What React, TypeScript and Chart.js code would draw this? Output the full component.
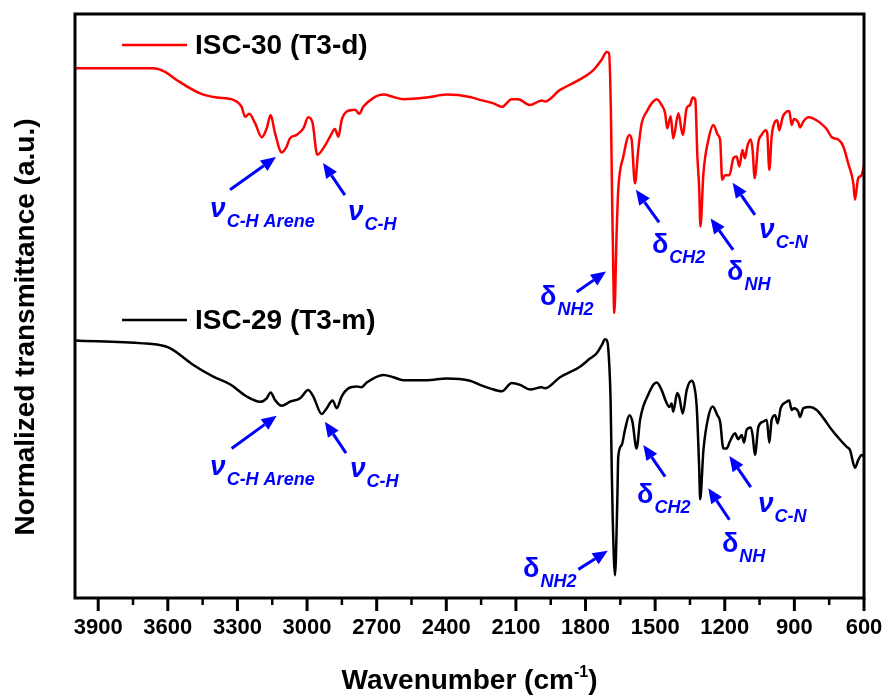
import React, { useEffect, useRef } from 'react';
import { Chart, registerables } from 'chart.js';

Chart.register(...registerables);

const FONT = '"Liberation Sans", Arial, Helvetica, sans-serif';

// x-axis tick labels (wavenumber, cm-1)
const majorTicks = [3900, 3600, 3300, 3000, 2700, 2400, 2100, 1800, 1500, 1200, 900, 600];

// ISC-30 (T3-d) spectrum: wavenumber and normalized transmittance (a.u.)
const redWn = [
  4000, 3664, 3612, 3562, 3461, 3389, 3318, 3282, 3267, 3249,
  3224, 3195, 3174, 3157, 3138, 3109, 3088, 3074, 3045, 3016,
  2995, 2976, 2956, 2930, 2901, 2880, 2865, 2851, 2829, 2793,
  2775, 2758, 2715, 2671, 2628, 2585, 2484, 2398, 2298, 2255,
  2197, 2161, 2118, 2090, 2039, 1989, 1975, 1910, 1824, 1766,
  1730, 1709, 1699, 1691, 1686, 1683, 1676, 1666, 1659, 1637,
  1611, 1601, 1587, 1573, 1558, 1536, 1515, 1493, 1472, 1457,
  1448, 1433, 1422, 1400, 1381, 1364, 1350, 1338, 1327, 1318,
  1310, 1305, 1292, 1271, 1249, 1230, 1220, 1211, 1199, 1180,
  1163, 1149, 1137, 1124, 1113, 1103, 1088, 1080, 1071, 1055,
  1041, 1024, 1017, 1008, 998, 983, 974, 965, 950, 933,
  922, 912, 902, 883, 876, 861, 840, 818, 790, 761,
  739, 711, 689, 668, 646, 639, 625, 610, 600,
];
const redT = [
  90.7, 90.7, 90.1, 88.7, 86.4, 85.7, 85.3, 84.1, 82.4, 82.9,
  81.3, 78.9, 80.4, 82.7, 79.6, 76.3, 77.3, 78.7, 79.3, 80.4,
  82.3, 81.3, 75.9, 77.0, 79.0, 80.3, 79.0, 81.8, 83.3, 83.6,
  82.9, 84.1, 85.6, 86.2, 85.8, 85.4, 85.7, 86.2, 85.8, 85.3,
  84.7, 84.1, 85.4, 85.4, 84.4, 85.2, 85.0, 87.0, 88.8, 90.4,
  92.2, 93.5, 93.3, 84.1, 69.9, 62.5, 48.8, 62.5, 69.9, 75.6,
  79.3, 78.4, 71.0, 76.7, 81.3, 83.3, 84.7, 85.4, 84.4, 83.0,
  80.4, 82.5, 78.7, 83.0, 79.3, 83.9, 84.4, 85.7, 85.3, 75.6,
  69.9, 63.6, 72.7, 78.4, 81.0, 79.3, 78.4, 71.6, 72.4, 72.4,
  75.3, 75.6, 73.9, 76.7, 75.3, 77.3, 78.5, 76.7, 71.9, 78.1,
  79.3, 80.1, 79.6, 73.3, 79.0, 81.6, 81.8, 80.1, 82.4, 83.3,
  83.4, 81.0, 82.0, 81.4, 80.6, 81.6, 82.3, 82.1, 81.4, 80.3,
  78.9, 78.5, 77.3, 74.4, 71.0, 68.2, 71.9, 72.4, 74.1,
];

// ISC-29 (T3-m) spectrum
const blackWn = [
  4000, 3706, 3648, 3591, 3490, 3404, 3332, 3260, 3203, 3174,
  3157, 3138, 3109, 3074, 3030, 2995, 2973, 2937, 2915, 2890,
  2872, 2851, 2822, 2786, 2765, 2743, 2671, 2628, 2585, 2484,
  2398, 2298, 2255, 2212, 2161, 2118, 2082, 2039, 1989, 1975,
  1910, 1824, 1781, 1752, 1730, 1716, 1706, 1698, 1692, 1687,
  1683, 1673, 1663, 1659, 1644, 1630, 1611, 1598, 1580, 1565,
  1551, 1530, 1508, 1493, 1472, 1453, 1439, 1429, 1422, 1405,
  1396, 1381, 1364, 1343, 1333, 1321, 1310, 1306, 1292, 1271,
  1252, 1232, 1220, 1206, 1192, 1178, 1156, 1142, 1127, 1117,
  1106, 1088, 1080, 1070, 1055, 1034, 1019, 1008, 998, 983,
  972, 959, 933, 922, 912, 902, 883, 876, 861, 833,
  804, 775, 739, 703, 675, 660, 639, 625, 610, 600,
];
const blackT = [
  44.1, 43.6, 43.4, 42.8, 39.9, 37.9, 36.6, 34.5, 33.6, 34.2,
  35.2, 33.9, 32.9, 33.6, 34.2, 35.6, 34.5, 31.5, 32.5, 33.8,
  32.5, 34.5, 35.9, 36.2, 36.1, 36.9, 38.2, 37.8, 37.3, 37.3,
  37.6, 37.2, 36.5, 35.9, 35.4, 36.8, 36.5, 35.7, 36.1, 35.9,
  37.8, 39.6, 41.0, 41.9, 43.3, 44.3, 43.9, 40.2, 33.9, 21.9,
  13.9, 3.9, 16.8, 24.2, 26.2, 28.8, 31.3, 30.2, 25.6, 30.5,
  32.8, 34.8, 36.5, 36.9, 35.6, 33.6, 32.7, 33.3, 31.9, 35.1,
  34.4, 31.6, 35.6, 37.2, 36.5, 32.8, 21.9, 16.9, 25.3, 31.0,
  32.8, 31.3, 30.2, 25.6, 25.6, 26.8, 28.2, 27.2, 27.9, 26.6,
  28.8, 29.2, 27.9, 24.5, 29.3, 30.2, 30.5, 26.6, 30.5, 31.3,
  29.9, 32.5, 33.6, 33.8, 32.2, 32.5, 31.9, 31.0, 32.5, 32.7,
  32.2, 30.8, 28.8, 27.1, 25.9, 25.3, 22.3, 23.6, 24.5, 24.2,
];

// band assignments: symbol, subscript, label anchor, arrow tail, arrow tip (data coords)
const redNotes = [
  { sym: 'ν', sub: 'C-H Arene', at: [3418, 65.2], from: [3332, 69.9], to: [3134, 75.5] },
  { sym: 'ν', sub: 'C-H', at: [2824, 64.7], from: [2837, 69.0], to: [2931, 74.5] },
  { sym: 'δ', sub: 'NH2', at: [1996, 50.2], from: [1838, 52.4], to: [1712, 55.9] },
  { sym: 'δ', sub: 'CH2', at: [1514, 59.1], from: [1483, 64.3], to: [1583, 69.9] },
  { sym: 'δ', sub: 'NH', at: [1190, 54.5], from: [1164, 59.6], to: [1261, 65.0] },
  { sym: 'ν', sub: 'C-N', at: [1052, 61.6], from: [1070, 65.6], to: [1166, 71.1] },
];
const blackNotes = [
  { sym: 'ν', sub: 'C-H Arene', at: [3418, 21.1], from: [3325, 25.6], to: [3131, 31.2] },
  { sym: 'ν', sub: 'C-H', at: [2815, 20.7], from: [2832, 24.8], to: [2923, 30.2] },
  { sym: 'δ', sub: 'NH2', at: [2069, 3.6], from: [1831, 4.9], to: [1704, 8.1] },
  { sym: 'δ', sub: 'CH2', at: [1578, 16.3], from: [1457, 20.8], to: [1551, 26.2] },
  { sym: 'δ', sub: 'NH', at: [1212, 7.9], from: [1180, 13.4], to: [1271, 18.8] },
  { sym: 'ν', sub: 'C-N', at: [1057, 14.7], from: [1088, 19.0], to: [1180, 24.3] },
];

const seriesLabels = ['ISC-30 (T3-d)', 'ISC-29 (T3-m)'];
const seriesColors = ['#FF0000', '#000000'];

export default function App() {
  const ref = useRef<HTMLCanvasElement>(null);

  useEffect(() => {
    const canvas = ref.current;
    if (!canvas) return;
    const toXY = (wn: number[], t: number[]) => wn.map((x, i) => ({ x, y: t[i] }));

    const overlay = {
      id: 'overlay',
      afterDraw(chart: any) {
        const { ctx, chartArea: a } = chart;
        const xs = chart.scales.x;
        const ys = chart.scales.y;
        const px = (v: number) => xs.getPixelForValue(v);
        const py = (v: number) => ys.getPixelForValue(v);
        ctx.save();

        // frame
        ctx.strokeStyle = '#000';
        ctx.lineWidth = 3;
        ctx.strokeRect(a.left, a.top, a.right - a.left, a.bottom - a.top);

        // ticks (major + minor)
        ctx.lineCap = 'butt';
        const tv = xs.ticks.map((t: any) => t.value);
        tv.forEach((v: number) => {
          const x = px(v);
          ctx.beginPath();
          ctx.moveTo(x, a.bottom);
          ctx.lineTo(x, a.bottom + 13);
          ctx.stroke();
        });
        ctx.lineWidth = 2.5;
        for (let i = 0; i < tv.length - 1; i++) {
          const x = px((tv[i] + tv[i + 1]) / 2);
          ctx.beginPath();
          ctx.moveTo(x, a.bottom);
          ctx.lineTo(x, a.bottom + 7);
          ctx.stroke();
        }

        // legends
        const legendY = [a.top + 31, a.top + 306];
        chart.data.datasets.forEach((ds: any, i: number) => {
          const y = legendY[i];
          ctx.strokeStyle = ds.borderColor;
          ctx.lineWidth = 2.5;
          ctx.beginPath();
          ctx.moveTo(a.left + 47, y);
          ctx.lineTo(a.left + 112, y);
          ctx.stroke();
          ctx.fillStyle = '#000';
          ctx.font = `bold 28px ${FONT}`;
          ctx.textAlign = 'left';
          ctx.textBaseline = 'middle';
          ctx.fillText(ds.label, a.left + 120, y + 1);
        });

        // axis titles
        ctx.fillStyle = '#000';
        ctx.textBaseline = 'alphabetic';
        const main = 'Wavenumber (cm';
        const sup = '-1';
        const close = ')';
        ctx.font = `bold 28px ${FONT}`;
        const w1 = ctx.measureText(main).width;
        const w3 = ctx.measureText(close).width;
        ctx.font = `bold 16px ${FONT}`;
        const w2 = ctx.measureText(sup).width;
        const cx = (a.left + a.right) / 2;
        let sx = cx - (w1 + w2 + w3) / 2;
        const by = 689;
        ctx.textAlign = 'left';
        ctx.font = `bold 28px ${FONT}`;
        ctx.fillText(main, sx, by);
        sx += w1;
        ctx.font = `bold 16px ${FONT}`;
        ctx.fillText(sup, sx, by - 12);
        sx += w2;
        ctx.font = `bold 28px ${FONT}`;
        ctx.fillText(close, sx, by);

        ctx.save();
        ctx.translate(34, (a.top + a.bottom) / 2 + 21);
        ctx.rotate(-Math.PI / 2);
        ctx.textAlign = 'center';
        ctx.font = `bold 28px ${FONT}`;
        ctx.fillText('Normalized transmittance (a.u.)', 0, 0);
        ctx.restore();

        // annotations
        const blue = '#0000FF';
        const arrow = (x1: number, y1: number, x2: number, y2: number) => {
          const ang = Math.atan2(y2 - y1, x2 - x1);
          const hl = 15;
          const hw = 6.5;
          const bx = x2 - hl * Math.cos(ang);
          const by2 = y2 - hl * Math.sin(ang);
          ctx.strokeStyle = blue;
          ctx.fillStyle = blue;
          ctx.lineWidth = 3;
          ctx.beginPath();
          ctx.moveTo(x1, y1);
          ctx.lineTo(bx, by2);
          ctx.stroke();
          ctx.beginPath();
          ctx.moveTo(x2, y2);
          ctx.lineTo(bx - hw * Math.sin(ang), by2 + hw * Math.cos(ang));
          ctx.lineTo(bx + hw * Math.sin(ang), by2 - hw * Math.cos(ang));
          ctx.closePath();
          ctx.fill();
        };
        [...redNotes, ...blackNotes].forEach((n) => {
          arrow(px(n.from[0]), py(n.from[1]), px(n.to[0]), py(n.to[1]));
          const x = px(n.at[0]);
          const y = py(n.at[1]);
          ctx.fillStyle = blue;
          ctx.textAlign = 'left';
          ctx.textBaseline = 'alphabetic';
          ctx.font = n.sym === 'δ' ? `bold 27px ${FONT}` : `italic bold 28px ${FONT}`;
          ctx.fillText(n.sym, x, y);
          const w = ctx.measureText(n.sym).width;
          ctx.font = `italic bold 18px ${FONT}`;
          ctx.fillText(n.sub, x + w + 1, y + 10);
        });

        ctx.restore();
      },
    };

    const chart = new Chart(canvas, {
      type: 'line',
      data: {
        datasets: [
          {
            label: seriesLabels[0],
            data: toXY(redWn, redT),
            borderColor: seriesColors[0],
            borderWidth: 2.5,
            pointRadius: 0,
            cubicInterpolationMode: 'monotone',
            fill: false,
          },
          {
            label: seriesLabels[1],
            data: toXY(blackWn, blackT),
            borderColor: seriesColors[1],
            borderWidth: 2.5,
            pointRadius: 0,
            cubicInterpolationMode: 'monotone',
            fill: false,
          },
        ],
      },
      options: {
        responsive: false,
        animation: false,
        devicePixelRatio: 1,
        layout: { padding: { left: 75, right: 24, top: 14, bottom: 0 } },
        plugins: { legend: { display: false }, tooltip: { enabled: false } },
        scales: {
          x: {
            type: 'linear',
            reverse: true,
            min: 600,
            max: 4000,
            afterBuildTicks: (s: any) => {
              s.ticks = majorTicks.map((v) => ({ value: v }));
            },
            afterFit: (s: any) => {
              s.height = 97;
              s.paddingLeft = 0;
              s.paddingRight = 0;
            },
            grid: { display: false, drawTicks: false },
            border: { display: false },
            ticks: {
              color: '#000',
              font: { family: FONT, size: 22, weight: 'bold' },
              padding: 17,
              maxRotation: 0,
              autoSkip: false,
              callback: (v: any) => String(v),
            },
          },
          y: { type: 'linear', display: false, min: 0, max: 100 },
        },
      },
      plugins: [overlay],
    } as any);

    return () => chart.destroy();
  }, []);

  return (
    <div style={{ position: 'absolute', left: 0, top: 0, width: 888, height: 695, background: '#fff' }}>
      <canvas ref={ref} width={888} height={695} style={{ display: 'block' }} />
    </div>
  );
}
